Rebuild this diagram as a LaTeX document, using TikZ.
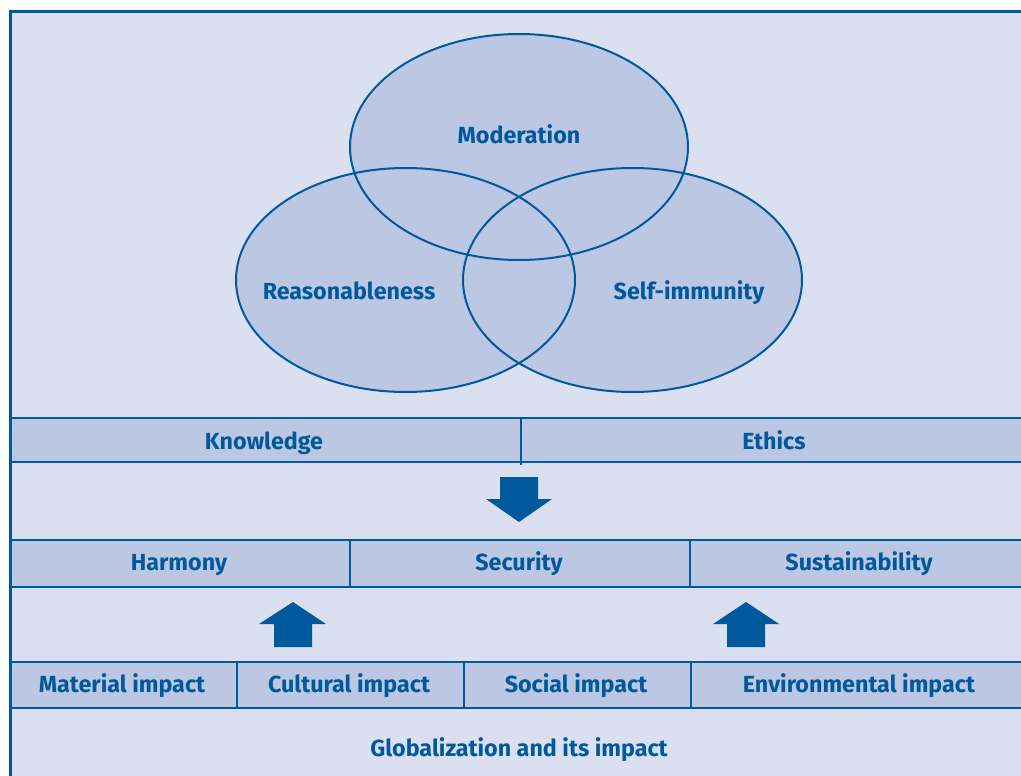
\documentclass[tikz,border=0pt]{standalone}
\usepackage{fontspec}
\setmainfont{Fira Sans}
\usetikzlibrary{calc}
\definecolor{panelbg}{HTML}{DAE0F0}
\definecolor{barbg}{HTML}{BCC7E3}
\definecolor{inkblue}{HTML}{00599C}
\tikzset{
	lbl/.style={font=\bfseries\fontsize{23.3}{26}\selectfont, text=inkblue, anchor=base, inner sep=0pt},
	barline/.style={draw=inkblue, line width=2.6pt},
	blockarrow/.style={fill=inkblue, draw=none}
}

\begin{document}
\begin{tikzpicture}[x=1pt, y=-1pt]
		%%%%% START %%%%%
		\useasboundingbox (0,0) rectangle (1021,776);
		\clip (0,0) rectangle (1021,776);
		\fill[white] (0,0) rectangle (1021,776);
		
		% panel
		\fill[panelbg] (10,12) rectangle (1040,800);
		
		% three circles
		\fill[barbg] (519,147) ellipse (169 and 113);
		\fill[barbg] (405.5,280) ellipse (169.5 and 112);
		\fill[barbg] (632.5,280) ellipse (169.5 and 112);
		\draw[inkblue, line width=2pt] (519,147) ellipse (169 and 113);
		\draw[inkblue, line width=2pt] (405.5,280) ellipse (169.5 and 112);
		\draw[inkblue, line width=2pt] (632.5,280) ellipse (169.5 and 112);
		\node[lbl] (moder) at (519,143) {Moderation};
		\node[lbl] (reason) at (349,299) {Reasonableness};
		\node[lbl] (immun) at (689,299) {Self-immunity};
		
		% knowledge / ethics
		\fill[barbg] (10,418) rectangle (1040,462);
		\draw[barline] (10,418) -- (1040,418);
		\draw[barline] (10,462) -- (1040,462);
		\draw[barline] (521,418) -- (521,465);
		\node[lbl] (know) at (264,449.5) {Knowledge};
		\node[lbl] (ethic) at (774,449.5) {Ethics};
		
		\fill[blockarrow] (500,477) -- (538,477) -- (538,499) -- (552,499) -- (519,522) -- (486,499) -- (500,499) -- cycle;
		
		% harmony / security / sustainability
		\fill[barbg] (10,540) rectangle (1040,587);
		\draw[barline] (10,540) -- (1040,540);
		\draw[barline] (10,587) -- (1040,587);
		\draw[barline] (350,540) -- (350,587);
		\draw[barline] (690,540) -- (690,587);
		\node[lbl] (harm) at (179,570.5) {Harmony};
		\node[lbl] (secur) at (519,570.5) {Security};
		\node[lbl] (sust) at (859,570.5) {Sustainability};
		
		\fill[blockarrow] (274,647) -- (312,647) -- (312,624) -- (326,624) -- (293,602) -- (259,624) -- (274,624) -- cycle;
		\fill[blockarrow] (727,647) -- (765,647) -- (765,624) -- (779,624) -- (746,602) -- (713,624) -- (727,624) -- cycle;
		
		% impacts
		\fill[barbg] (10,662) rectangle (1040,708);
		\draw[barline] (10,662) -- (1040,662);
		\draw[barline] (10,708) -- (1040,708);
		\draw[barline] (237,662) -- (237,708);
		\draw[barline] (464,662) -- (464,708);
		\draw[barline] (691,662) -- (691,708);
		\node[lbl] (mater) at (122,692.5) {Material impact};
		\node[lbl] (cultur) at (349,692.5) {Cultural impact};
		\node[lbl] (social) at (576,692.5) {Social impact};
		\node[lbl] (envir) at (859,692.5) {Environmental impact};
		
		\node[lbl] (global) at (519,756) {Globalization and its impact};
		
		% frame
		\draw[inkblue, line width=3pt] (1040,12) -- (10,12) -- (10,800);
		%%%%% END %%%%%
	\end{tikzpicture}
\end{document}
